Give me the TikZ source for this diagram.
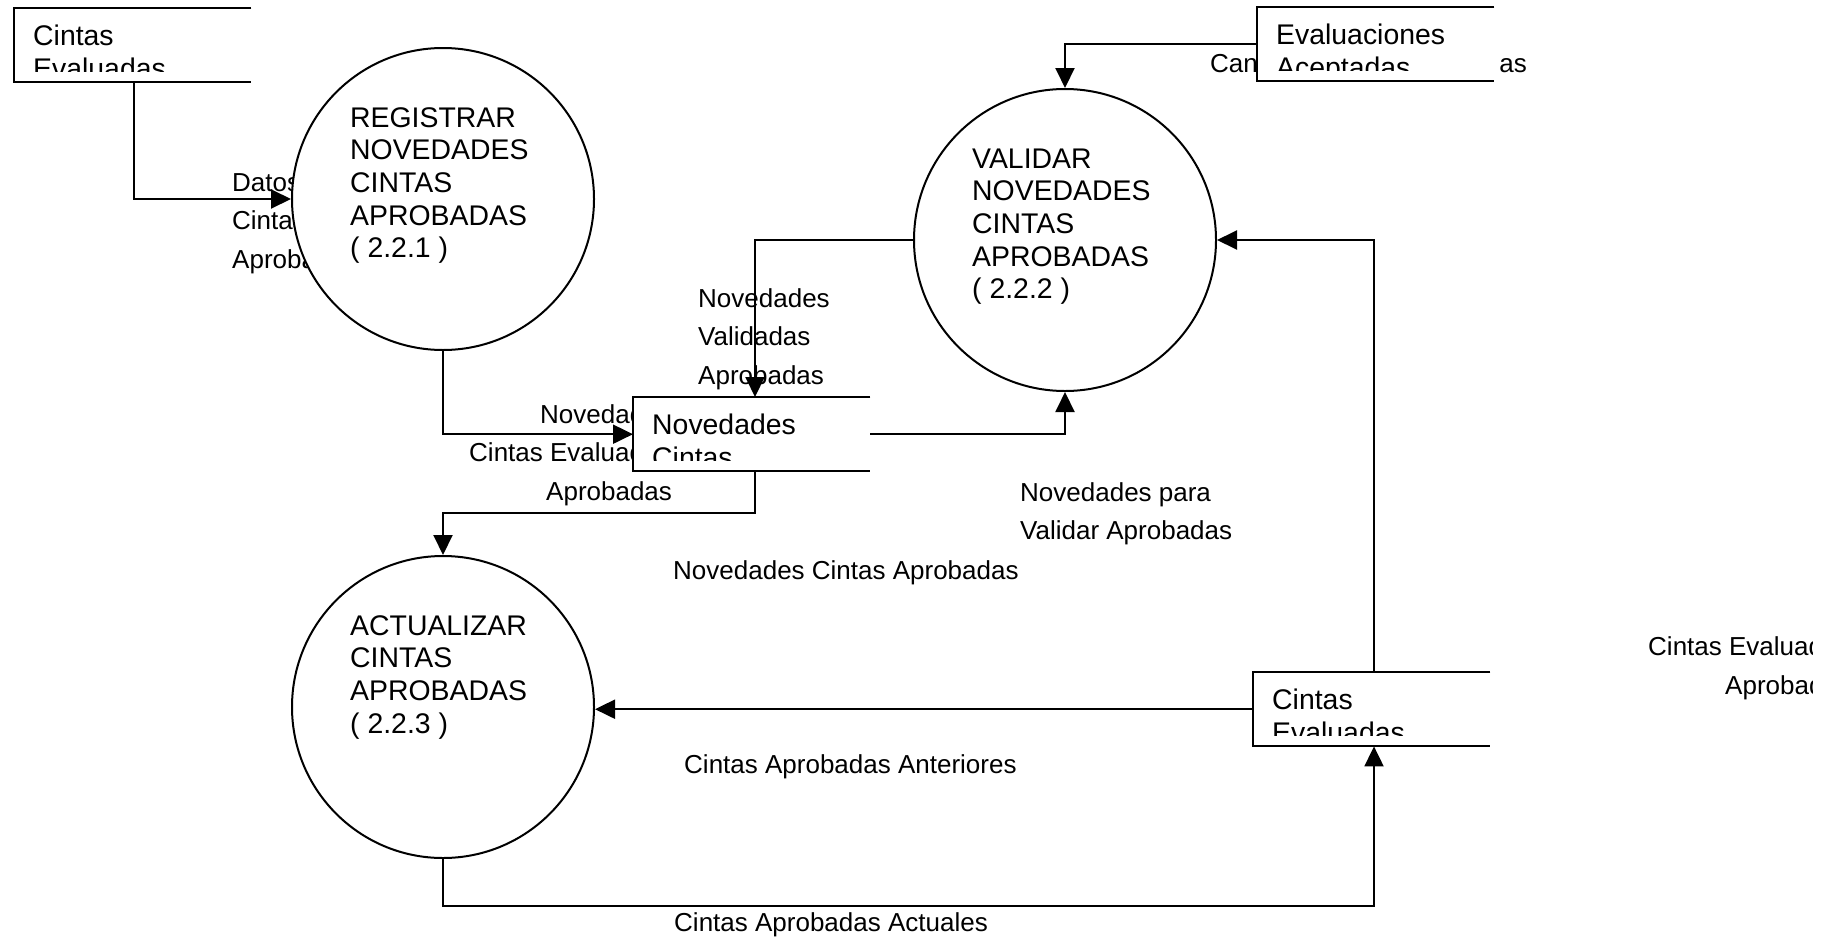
\documentclass[tikz,border=0pt]{standalone}
\usepackage{fontspec}
\setmainfont{Liberation Sans}
\usetikzlibrary{arrows.meta,calc}

% multi-line nodes below are placed by the baseline of their last line
\tikzset{
  flow/.style={line width=2pt, -{Triangle[length=20pt,width=19pt]}},
  proc/.style={circle, draw, line width=2pt, fill=white, minimum size=302pt, inner sep=0pt},
  proctext/.style={anchor=base west, inner sep=0pt, align=left, font=\fontsize{28.4}{32.7}\selectfont},
  storebox/.style={rectangle, fill=white, minimum width=237pt, minimum height=74pt, inner sep=0pt, anchor=north west},
  storeline/.style={line width=2pt},
  storetext/.style={anchor=base west, inner sep=0pt, align=left, font=\fontsize{28.4}{33}\selectfont},
  flowlabel/.style={anchor=base west, inner sep=0pt, align=left, font=\fontsize{26}{38.5}\selectfont},
}

% data store: open box (top, left, bottom sides) with its name cut at the box
\newcommand{\datastore}[3]{%
  \node[storebox] (#1) at #2 {};
  \draw[storeline] (#1.north east) -- (#1.north west) -- (#1.south west) -- (#1.south east);
  \begin{scope}
    \clip (#1.north west) rectangle ($(#1.north east)+(0,63)$);
    \node[storetext] (#1-text) at ($(#1.north west)+(19,70)$) {#3};
  \end{scope}}

\begin{document}
\begin{tikzpicture}[x=1pt, y=-1pt]
\useasboundingbox (0,0) rectangle (1838,937);
\fill[white] (0,0) rectangle (1838,937);

% flow labels (drawn first, the boxes and bubbles lie over them)
\node[flowlabel] (lblIn) at (232,268) {Datos\\Cintas\\Aprobadas};
\node[flowlabel] (lblReg) at (469,500) {\hspace*{71pt}Novedades\\Cintas Evaluadas\\\hspace*{77pt}Aprobadas};
\node[flowlabel] (lblVal) at (698,384) {Novedades\\Validadas\\Aprobadas};
\node[flowlabel] (lblToVal) at (1020,539.5) {Novedades para\\Validar Aprobadas};
\node[flowlabel] (lblNov) at (673,579) {Novedades Cintas Aprobadas};
\node[flowlabel] (lblAnt) at (684,773) {Cintas Aprobadas Anteriores};
\node[flowlabel] (lblAct) at (674,931) {Cintas Aprobadas Actuales};
\node[flowlabel] (lblAccA) at (1210,72) {Can};
\node[flowlabel, anchor=base east] (lblAccB) at (1527,72) {as};
\begin{scope}
  \clip (1600,600) rectangle (1812,740);
  \node[flowlabel] (lblRight) at (1648,694) {Cintas Evaluadas\\\hspace*{77pt}Aprobadas};
\end{scope}

% processes
\node[proc] (P1) at (443,199) {};
\node[proctext] at ($(P1.center)+(-93,58.8)$) {REGISTRAR\\NOVEDADES\\CINTAS\\APROBADAS\\( 2.2.1 )};
\node[proc] (P2) at (1065,240) {};
\node[proctext] at ($(P2.center)+(-93,58.8)$) {VALIDAR\\NOVEDADES\\CINTAS\\APROBADAS\\( 2.2.2 )};
\node[proc] (P3) at (443,707) {};
\node[proctext] at ($(P3.center)+(-93,26.1)$) {ACTUALIZAR\\CINTAS\\APROBADAS\\( 2.2.3 )};

% data stores
\datastore{sA}{(14,8)}{Cintas\\Evaluadas}
\datastore{sC}{(1257,7)}{Evaluaciones\\Aceptadas}
\datastore{sB}{(633,397)}{Novedades\\Cintas}
\datastore{sD}{(1253,672)}{Cintas\\Evaluadas}

% data flows
\draw[flow] ($(sA.south west)+(120,0)$) |- (P1.west);
\draw[flow] (P1.south) |- (sB.west);
\draw[flow] (P2.west) -| ($(sB.north west)+(122,0)$);
\draw[flow] (sB.east) -| (P2.south);
\draw[flow] (sC.west) -| (P2.north);
\draw[flow] ($(sB.south west)+(122,0)$) -- ++(0,42) -| (P3.north);
\draw[flow] (sD.west) -- (sD.west -| P3.east);
\draw[flow] ($(sD.north west)+(121,0)$) |- (P2.east);
\draw[flow] (P3.south) -- ++(0,47) -| ($(sD.south west)+(121,0)$);
\end{tikzpicture}
\end{document}
